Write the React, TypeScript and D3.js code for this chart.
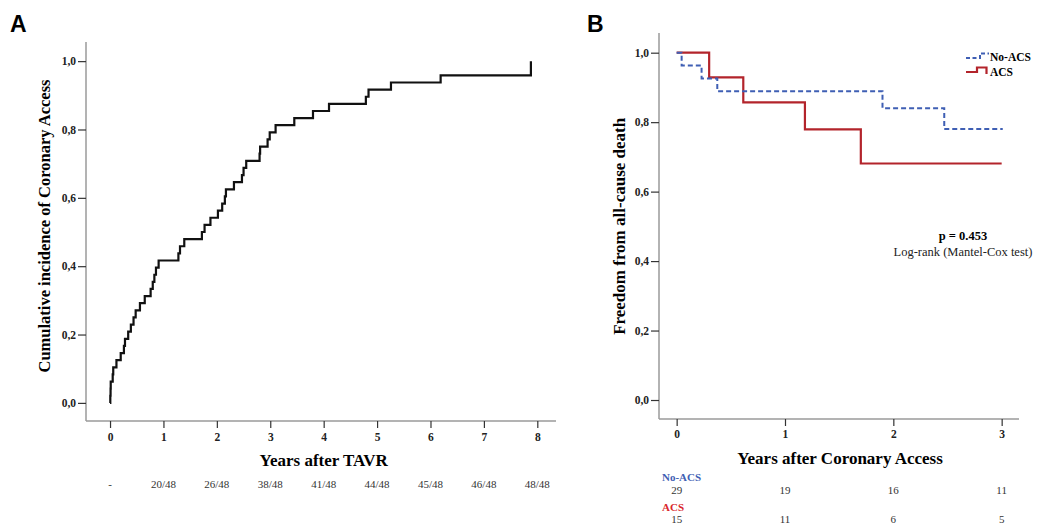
import React, { useEffect, useRef } from 'react';
import * as d3 from 'd3';

// Panel A: event times (years) of the 48 coronary accesses after TAVR
const accessTimes = [0.005, 0.01, 0.013, 0.05, 0.06, 0.12, 0.2, 0.26, 0.28, 0.34, 0.39, 0.44, 0.48, 0.56, 0.65, 0.76,
  0.8, 0.83, 0.86, 0.91, 1.28, 1.31, 1.39, 1.72, 1.77, 1.88, 2.02, 2.1, 2.15, 2.17, 2.32, 2.47, 2.5, 2.55, 2.8, 2.81,
  2.95, 2.99, 3.1, 3.45, 3.8, 4.1, 4.79, 4.84, 5.26, 6.19, 7.88, 7.88];
const totalA = 48;
const yearsA = [0, 1, 2, 3, 4, 5, 6, 7, 8];
const cumulativeA = ['-', '20/48', '26/48', '38/48', '41/48', '44/48', '45/48', '46/48', '48/48'];

// Panel B: Kaplan-Meier steps
const noAcsTimes = [0, 0.046, 0.23, 0.375, 1.9, 2.47, 3.01];
const noAcsSurv = [1, 0.963, 0.926, 0.889, 0.84, 0.78, 0.78];
const acsTimes = [0, 0.3, 0.615, 1.184, 1.7, 3.0];
const acsSurv = [1, 0.929, 0.857, 0.779, 0.681, 0.681];
const yearsB = [0, 1, 2, 3];
const atRiskNoAcs = [29, 19, 16, 11];
const atRiskAcs = [15, 11, 6, 5];
const yTicks = [0, 0.2, 0.4, 0.6, 0.8, 1.0];

const SERIF = '"Liberation Serif", "Times New Roman", serif';
const SANS = '"Liberation Sans", Arial, sans-serif';
const BLUE = '#3f5fb4';
const RED = '#b3242b';

const App = () => {
  const svgRef = useRef(null);

  useEffect(() => {
    const svg = d3.select(svgRef.current);
    svg.selectAll('*').remove();

    const fmt = (d) => d3.format('.1f')(d).replace('.', ',');

    const styleAxis = (g) => {
      g.select('.domain').remove();
      g.selectAll('.tick line').attr('stroke', '#333').attr('stroke-width', 1.2);
      g.selectAll('.tick text')
        .attr('fill', '#222')
        .style('font-family', SERIF)
        .style('font-size', '11.5px')
        .style('font-weight', 'bold');
    };

    // ---------- Panel A ----------
    const xA = d3.scaleLinear().domain([-0.45, 8.35]).range([86, 556]);
    const yA = d3.scaleLinear().domain([-0.053, 1.056]).range([421, 42]);

    svg.append('text').attr('x', 10).attr('y', 32).text('A')
      .style('font-family', SANS).style('font-weight', 'bold').style('font-size', '23px');

    // axis lines
    svg.append('line').attr('x1', xA.range()[0]).attr('x2', xA.range()[0])
      .attr('y1', yA.range()[1]).attr('y2', yA.range()[0]).attr('stroke', '#9a9a9a').attr('stroke-width', 1.5);
    svg.append('line').attr('x1', xA.range()[0]).attr('x2', xA.range()[1])
      .attr('y1', yA.range()[0]).attr('y2', yA.range()[0]).attr('stroke', '#9a9a9a').attr('stroke-width', 1.5);

    svg.append('g').attr('transform', `translate(${xA.range()[0]},0)`)
      .call(d3.axisLeft(yA).tickValues(yTicks).tickFormat(fmt).tickSize(8).tickPadding(2))
      .call(styleAxis);
    svg.append('g').attr('transform', `translate(0,${yA.range()[0]})`)
      .call(d3.axisBottom(xA).tickValues(yearsA).tickFormat(d3.format('d')).tickSize(7).tickPadding(5))
      .call(styleAxis);

    const ptsA = [[0, 0], ...accessTimes.map((t, i) => [t, (i + 1) / totalA])];
    const lineA = d3.line().x((d) => xA(d[0])).y((d) => yA(d[1])).curve(d3.curveStepAfter);
    svg.append('path').attr('d', lineA(ptsA)).attr('fill', 'none')
      .attr('stroke', '#111').attr('stroke-width', 2.2);

    svg.append('text').attr('transform', `translate(50,${yA(0.5) - 6}) rotate(-90)`)
      .attr('text-anchor', 'middle').text('Cumulative incidence of Coronary Access')
      .style('font-family', SERIF).style('font-weight', 'bold').style('font-size', '16.5px');
    svg.append('text').attr('x', xA(4)).attr('y', 466).attr('text-anchor', 'middle')
      .text('Years after TAVR')
      .style('font-family', SERIF).style('font-weight', 'bold').style('font-size', '17px');

    svg.append('g').selectAll('text').data(cumulativeA).join('text')
      .attr('x', (d, i) => xA(yearsA[i])).attr('y', 488).attr('text-anchor', 'middle')
      .text((d) => d).attr('fill', '#333')
      .style('font-family', SERIF).style('font-size', '11px');

    // ---------- Panel B ----------
    const xB = d3.scaleLinear().domain([-0.163, 3.16]).range([659, 1019]);
    const yB = d3.scaleLinear().domain([-0.0547, 1.0567]).range([419, 33]);

    svg.append('text').attr('x', 587).attr('y', 32).text('B')
      .style('font-family', SANS).style('font-weight', 'bold').style('font-size', '23px');

    svg.append('line').attr('x1', xB.range()[0]).attr('x2', xB.range()[0])
      .attr('y1', yB.range()[1]).attr('y2', yB.range()[0]).attr('stroke', '#9a9a9a').attr('stroke-width', 1.5);
    svg.append('line').attr('x1', xB.range()[0]).attr('x2', xB.range()[1])
      .attr('y1', yB.range()[0]).attr('y2', yB.range()[0]).attr('stroke', '#9a9a9a').attr('stroke-width', 1.5);

    svg.append('g').attr('transform', `translate(${xB.range()[0]},0)`)
      .call(d3.axisLeft(yB).tickValues(yTicks).tickFormat(fmt).tickSize(8).tickPadding(2))
      .call(styleAxis);
    svg.append('g').attr('transform', `translate(0,${yB.range()[0]})`)
      .call(d3.axisBottom(xB).tickValues(yearsB).tickFormat(d3.format('d')).tickSize(7).tickPadding(4))
      .call(styleAxis);

    const lineB = d3.line().x((d) => xB(d[0])).y((d) => yB(d[1])).curve(d3.curveStepAfter);
    svg.append('path').attr('d', lineB(acsTimes.map((t, i) => [t, acsSurv[i]])))
      .attr('fill', 'none').attr('stroke', RED).attr('stroke-width', 2.2);
    svg.append('path').attr('d', lineB(noAcsTimes.map((t, i) => [t, noAcsSurv[i]])))
      .attr('fill', 'none').attr('stroke', BLUE).attr('stroke-width', 2)
      .attr('stroke-dasharray', '5,3');

    // legend
    svg.append('path').attr('d', 'M966,58 H980 V53.5 H989').attr('fill', 'none')
      .attr('stroke', BLUE).attr('stroke-width', 2).attr('stroke-dasharray', '4,2.5');
    svg.append('path').attr('d', 'M966,72 H977 V67.5 H986.5 V74').attr('fill', 'none')
      .attr('stroke', RED).attr('stroke-width', 2.2);
    svg.append('text').attr('x', 990).attr('y', 61).text('No-ACS')
      .style('font-family', SERIF).style('font-weight', 'bold').style('font-size', '11.5px');
    svg.append('text').attr('x', 990).attr('y', 75.5).text('ACS')
      .style('font-family', SERIF).style('font-weight', 'bold').style('font-size', '11.5px');

    svg.append('text').attr('x', 963).attr('y', 240).attr('text-anchor', 'middle').text('p = 0.453')
      .style('font-family', SERIF).style('font-weight', 'bold').style('font-size', '12.5px');
    svg.append('text').attr('x', 963).attr('y', 256).attr('text-anchor', 'middle')
      .text('Log-rank (Mantel-Cox test)').attr('fill', '#222')
      .style('font-family', SERIF).style('font-size', '12.5px');

    svg.append('text').attr('transform', `translate(625,${yB(0.5)}) rotate(-90)`)
      .attr('text-anchor', 'middle').text('Freedom from all-cause death')
      .style('font-family', SERIF).style('font-weight', 'bold').style('font-size', '17px');
    svg.append('text').attr('x', 840).attr('y', 464).attr('text-anchor', 'middle')
      .text('Years after Coronary Access')
      .style('font-family', SERIF).style('font-weight', 'bold').style('font-size', '17px');

    // numbers at risk
    svg.append('text').attr('x', 662).attr('y', 481).text('No-ACS').attr('fill', BLUE)
      .style('font-family', SERIF).style('font-weight', 'bold').style('font-size', '11px');
    svg.append('g').selectAll('text').data(atRiskNoAcs).join('text')
      .attr('x', (d, i) => xB(yearsB[i])).attr('y', 494).attr('text-anchor', 'middle')
      .text((d) => d).attr('fill', '#333')
      .style('font-family', SERIF).style('font-size', '11px');
    svg.append('text').attr('x', 662).attr('y', 511).text('ACS').attr('fill', '#d9262b')
      .style('font-family', SERIF).style('font-weight', 'bold').style('font-size', '11px');
    svg.append('g').selectAll('text').data(atRiskAcs).join('text')
      .attr('x', (d, i) => xB(yearsB[i])).attr('y', 523).attr('text-anchor', 'middle')
      .text((d) => d).attr('fill', '#333')
      .style('font-family', SERIF).style('font-size', '11px');
  }, []);

  return (
    <svg ref={svgRef} width={1041} height={526}
      style={{ position: 'absolute', left: 0, top: 0, background: '#fff' }} />
  );
};

export default App;
